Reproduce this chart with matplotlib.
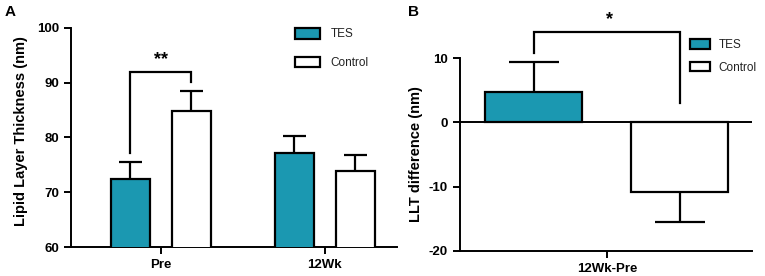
import matplotlib
matplotlib.use("Agg")
import matplotlib.pyplot as plt
import numpy as np

plt.rcParams['font.family'] = ['Liberation Sans', 'DejaVu Sans']
plt.rcParams['axes.unicode_minus'] = False

# panel A data
groups = ['Pre', '12Wk']
tes_mean = [72.4, 77.2]
tes_err = [3.1, 3.1]
ctrl_mean = [84.9, 73.9]
ctrl_err = [3.6, 2.9]

# panel B data
diff_label = ['12Wk-Pre']
diff_tes = [4.7]
diff_tes_err = [4.7]
diff_ctrl = [-10.9]
diff_ctrl_err = [4.6]

teal = '#1b98b1'
lw = 1.6

fig = plt.figure(figsize=(7.65, 2.76), dpi=100)
axA = fig.add_axes([0.0928, 0.105, 0.426, 0.794])
axB = fig.add_axes([0.601, 0.0906, 0.382, 0.699])

def style(ax):
    for s in ['top', 'right']:
        ax.spines[s].set_visible(False)
    for s in ['left', 'bottom']:
        ax.spines[s].set_linewidth(1.4)
    ax.tick_params(width=1.4, length=5, labelsize=9.5, direction='out')
    for t in ax.get_yticklabels() + ax.get_xticklabels():
        t.set_fontweight('bold')

# ---- A ----
x = np.arange(len(groups))
off = 0.186
w = 0.235
bt = axA.bar(x - off, tes_mean, w, color=teal, edgecolor='black', linewidth=lw, label='TES', zorder=3)
bc = axA.bar(x + off, ctrl_mean, w, color='white', edgecolor='black', linewidth=lw, label='Control', zorder=3)
capA = 0.07
for xs, m, e in [(x - off, tes_mean, tes_err), (x + off, ctrl_mean, ctrl_err)]:
    tops = np.array(m) + np.array(e)
    axA.vlines(xs, m, tops, color='black', lw=lw, zorder=2)
    axA.hlines(tops, xs - capA, xs + capA, color='black', lw=lw, zorder=2)

# significance bracket
axA.plot([-off, -off, off, off], [77.2, 92.0, 92.0, 90.2], color='black', lw=lw, solid_joinstyle='miter')
axA.text(0, 92.6, '**', ha='center', va='bottom', fontsize=13, fontweight='bold')

axA.set_ylim(60, 100)
axA.set_yticks([60, 70, 80, 90, 100])
axA.set_xlim(-0.549, 1.439)
axA.set_xticks(x)
axA.set_xticklabels(groups)
axA.set_ylabel('Lipid Layer Thickness (nm)', fontsize=10.5, fontweight='bold')
axA.yaxis.set_label_coords(-0.132, 0.53)
style(axA)
axA.legend(handles=[bt, bc], loc='upper left', bbox_to_anchor=(295 / 765, 1 - 28 / 276),
           bbox_transform=fig.transFigure, frameon=False, fontsize=8.5,
           handlelength=2.1, handleheight=1.0, labelspacing=1.38, borderpad=0,
           borderaxespad=0, handletextpad=0.9, labelcolor='#222222')
fig.text(5 / 765, 1 - 12 / 276, 'A', fontsize=11, fontweight='bold', va='center')

# ---- B ----
xb = np.arange(len(diff_label))
offb = 0.73
wb = 0.97
b1 = axB.bar(xb - offb, diff_tes, wb, color=teal, edgecolor='black', linewidth=lw, label='TES', zorder=3)
b2 = axB.bar(xb + offb, diff_ctrl, wb, color='white', edgecolor='black', linewidth=lw, label='Control', zorder=3)
capB = 0.25
tb = np.array(diff_tes) + np.array(diff_tes_err)
axB.vlines(xb - offb, diff_tes, tb, color='black', lw=lw, zorder=2)
axB.hlines(tb, xb - offb - capB, xb - offb + capB, color='black', lw=lw, zorder=2)
bb = np.array(diff_ctrl) - np.array(diff_ctrl_err)
axB.vlines(xb + offb, diff_ctrl, bb, color='black', lw=lw, zorder=2)
axB.hlines(bb, xb + offb - capB, xb + offb + capB, color='black', lw=lw, zorder=2)
axB.axhline(0, color='black', lw=1.4, zorder=4)

axB.plot([-offb, -offb, offb, offb], [10.8, 14.1, 14.1, 3.0], color='black', lw=lw,
         clip_on=False, solid_joinstyle='miter')
axB.text(0.03, 14.6, '*', ha='center', va='bottom', fontsize=13, fontweight='bold')

axB.set_ylim(-20, 10)
axB.set_yticks([-20, -10, 0, 10])
axB.set_xlim(-1.47, 1.45)
axB.set_xticks(xb)
axB.set_xticklabels(diff_label)
axB.set_ylabel('LLT difference (nm)', fontsize=10.5, fontweight='bold')
axB.yaxis.set_label_coords(-0.127, 0.5)
style(axB)
axB.legend(handles=[b1, b2], loc='upper left', bbox_to_anchor=(690 / 765, 1 - 39 / 276),
           bbox_transform=fig.transFigure, frameon=False, fontsize=8.5,
           handlelength=1.7, handleheight=0.9, labelspacing=0.9, borderpad=0,
           borderaxespad=0, handletextpad=0.7, labelcolor='#222222')
fig.text(408 / 765, 1 - 12 / 276, 'B', fontsize=11, fontweight='bold', va='center')

fig.savefig('out.png', dpi=100)
